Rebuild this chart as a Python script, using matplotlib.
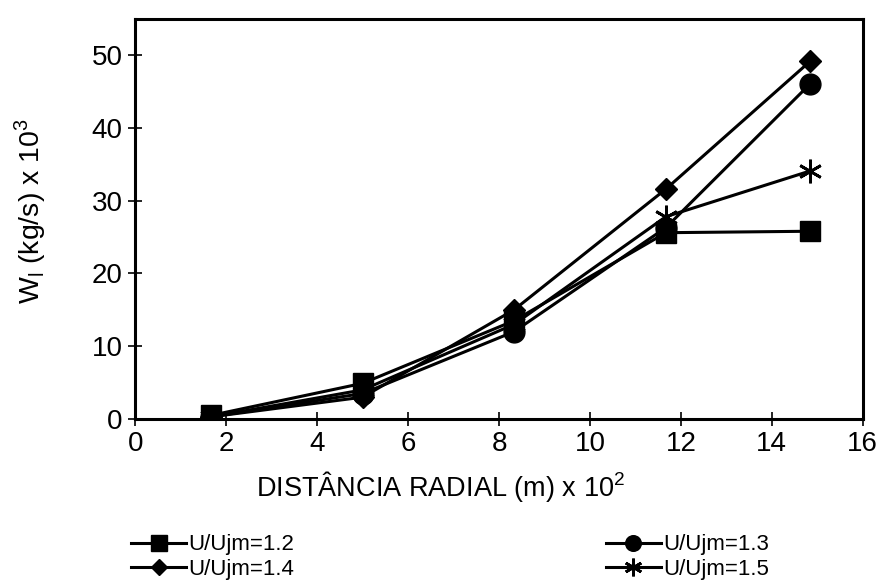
import matplotlib.pyplot as plt

plt.rcParams['font.family'] = ['Liberation Sans', 'DejaVu Sans']
plt.rcParams['mathtext.fontset'] = 'custom'
plt.rcParams['mathtext.rm'] = 'Liberation Sans'

# radial distance (m) x 10^2
x = [1.67, 5.0, 8.33, 11.67, 14.85]

# W_l (kg/s) x 10^3 for each U/Ujm
w12 = [0.5, 4.9, 13.5, 25.6, 25.8]
w13 = [0.3, 3.5, 12.0, 26.3, 46.1]
w14 = [0.3, 3.0, 15.0, 31.6, 49.2]
w15 = [0.3, 4.0, 13.0, 27.8, 34.1]

labels = ['U/Ujm=1.2', 'U/Ujm=1.3', 'U/Ujm=1.4', 'U/Ujm=1.5']

fig = plt.figure(figsize=(8.84, 5.86), dpi=100)
ax = fig.add_axes([0.153, 0.285, 0.823, 0.683])

lw = 2.2
h12, = ax.plot(x, w12, color='black', lw=lw, marker='s', ms=15, label=labels[0])
h13, = ax.plot(x, w13, color='black', lw=lw, marker='o', ms=15, label=labels[1])
h14, = ax.plot(x, w14, color='black', lw=lw, marker='D', ms=11, label=labels[2])
h15, = ax.plot(x, w15, color='black', lw=lw, marker=(6, 2, 0), ms=17,
               mew=2, label=labels[3])

ax.set_xlim(0, 16)
ax.set_ylim(0, 55)
ax.set_xticks(range(0, 17, 2))
ax.set_yticks(range(0, 51, 10))
for s in ax.spines.values():
    s.set_linewidth(2.2)
ax.tick_params(direction='inout', length=10, width=1.2, labelsize=20, pad=4)

ax.set_xlabel('DISTÂNCIA RADIAL (m) x 10$^\\mathregular{2}$', fontsize=19.5, labelpad=8)
ax.xaxis.set_label_coords(0.42, -0.125)
ax.set_ylabel('W$_\\mathregular{l}$ (kg/s) x 10$^\\mathregular{3}$', fontsize=20.5)
ax.yaxis.set_label_coords(-0.12, 0.52)

fig.legend([h12, h14, h13, h15], [labels[0], labels[2], labels[1], labels[3]],
           loc='upper left', bbox_to_anchor=(0.148, 0.088), bbox_transform=fig.transFigure,
           ncol=2, frameon=False, fontsize=16, handlelength=2.5, handletextpad=0.1,
           columnspacing=14.0, labelspacing=0.15, markerscale=0.75, borderaxespad=0,
           borderpad=0)

fig.savefig('out.png', dpi=100)
